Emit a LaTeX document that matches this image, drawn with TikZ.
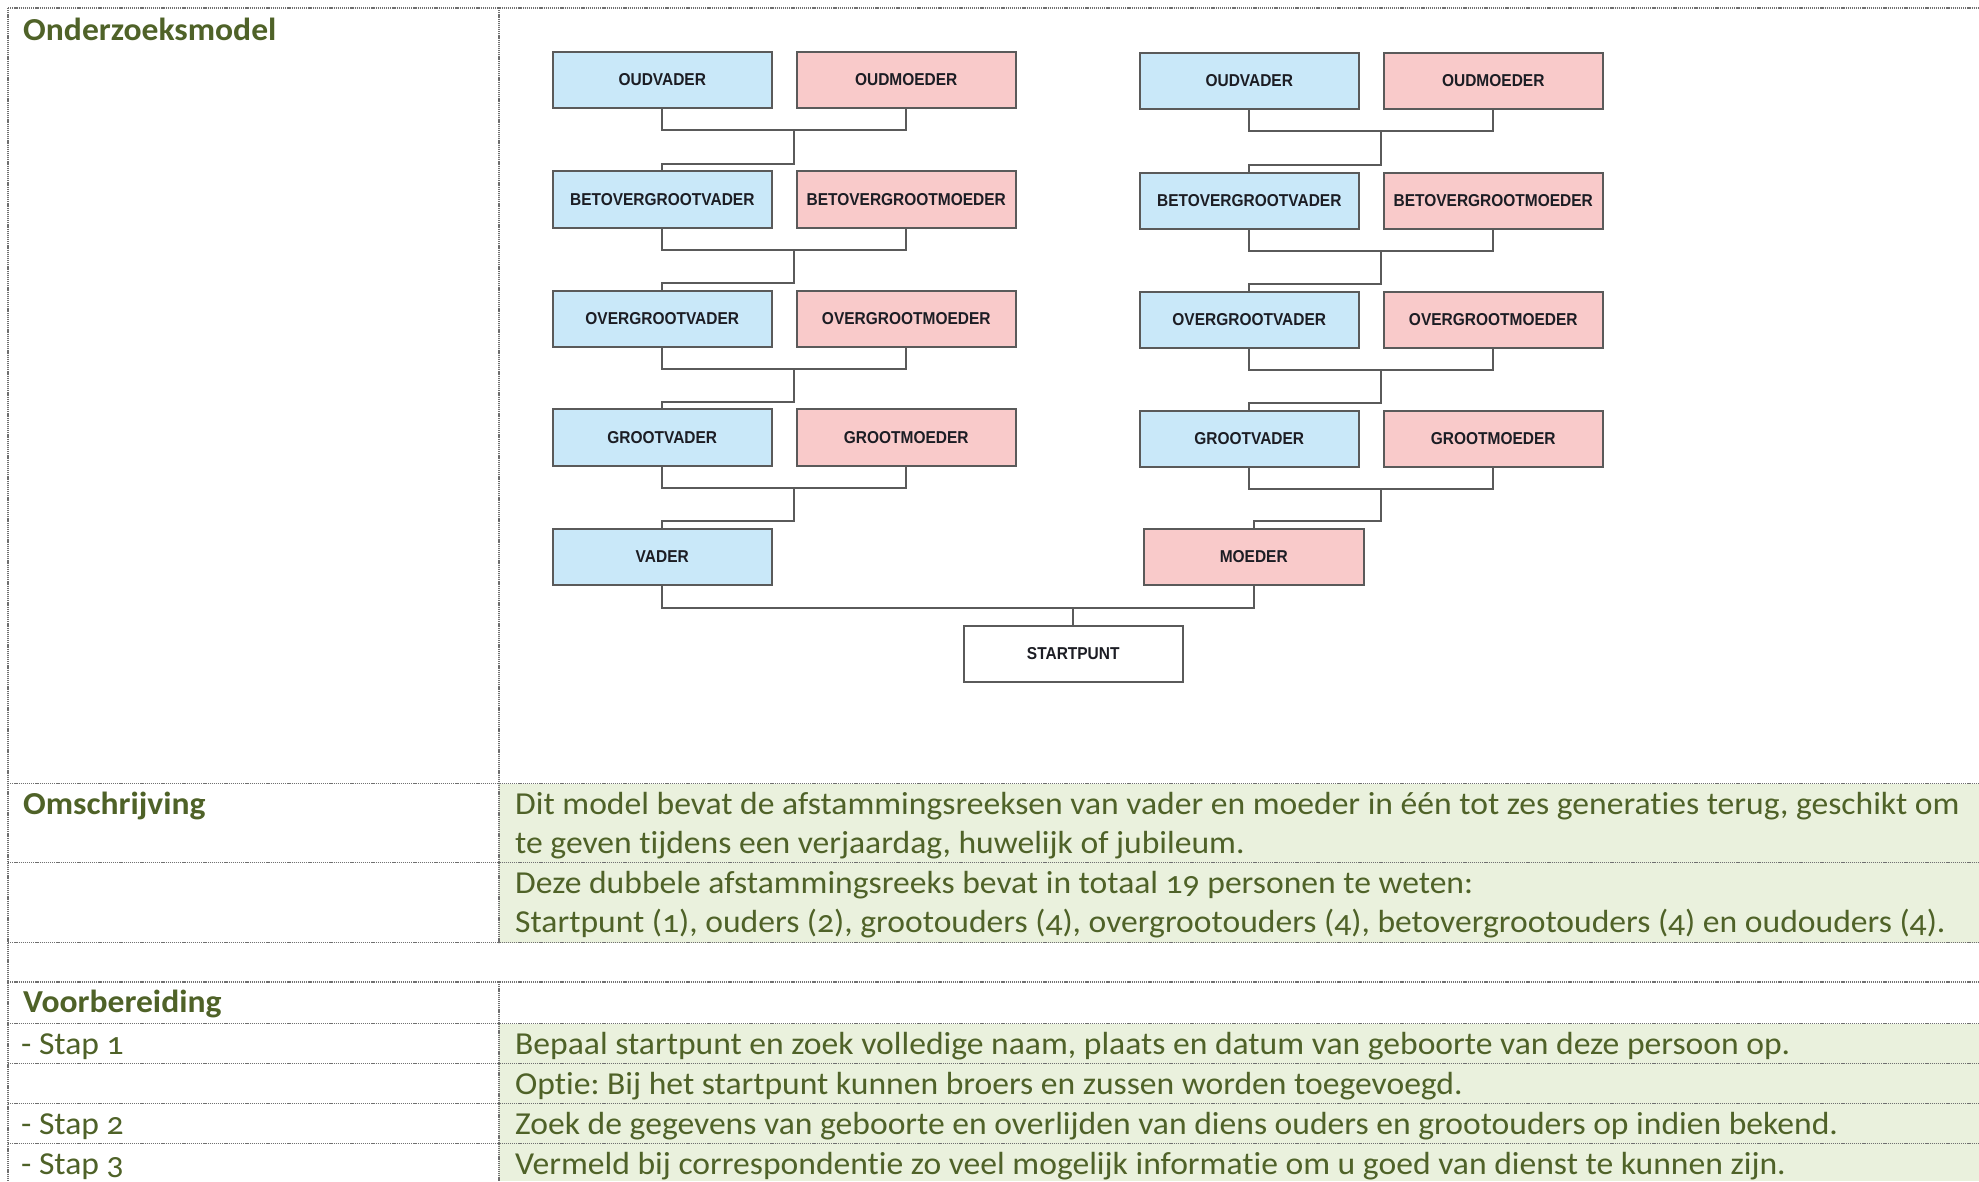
\documentclass[tikz,border=0pt]{standalone}
\usepackage{fontspec}
\setmainfont{Carlito}[Numbers=OldStyle, FakeStretch=1.05, Ligatures=NoCommon]
\newfontfamily\boxfont{Liberation Sans}[FakeStretch=0.9]
\frenchspacing
\usetikzlibrary{calc}
\definecolor{olive}{HTML}{4F6228}
\definecolor{cellgreen}{HTML}{EAF1DD}
\definecolor{vblue}{HTML}{C9E8F9}
\definecolor{mpink}{HTML}{F9CACA}
\definecolor{boxline}{HTML}{5A5A5A}
\definecolor{gridline}{HTML}{707070}
\definecolor{boxtext}{HTML}{1C1D24}
\begin{document}
\begin{tikzpicture}[x=1pt,y=-1pt,
  grid/.style={draw=gridline, line width=1.1pt, dash pattern=on 1.2pt off 0.9pt},
  person/.style={draw=boxline, line width=2pt, minimum width=219.5pt, minimum height=56.5pt,
    inner sep=0pt, anchor=north west, text=boxtext,
    font=\boxfont\bfseries\fontsize{17.2}{18}\selectfont},
  man/.style={person, fill=vblue},
  woman/.style={person, fill=mpink},
  link/.style={draw=boxline, line width=2pt},
  head/.style={anchor=base west, inner sep=0pt, text=olive,
    font=\bfseries\fontsize{32}{39.5}\selectfont},
  body/.style={anchor=base west, inner sep=0pt, text=olive,
    font=\fontsize{32}{39.5}\selectfont},
]
\useasboundingbox (0,0) rectangle (1979,1181);
\fill[white] (0,0) rectangle (1979,1181);

% ---------- table fills ----------
\fill[cellgreen] (499,783.5) rectangle (1979,942.5);
\fill[cellgreen] (499,1023.5) rectangle (1979,1181);

% ---------- table rules ----------
\foreach \yy in {8,783.5,862.5,942.5,982,1023.5,1063.5,1103.5,1143.5}
  \draw[grid] (8,\yy) -- (1979,\yy);
\draw[grid] (8,8) -- (8,1181);
\draw[grid] (499,8) -- (499,942.5);
\draw[grid] (499,982) -- (499,1181);

% ---------- table texts ----------
\node[head] (hOnd) at (23,40) {Onderzoeksmodel};
\node[head] (hOms) at (23,814) {Omschrijving};
\node[body] (d1) at (515,814) {Dit model bevat de afstammingsreeksen van vader en moeder in één tot zes generaties terug, geschikt om};
\node[body] (d2) at (515,853.5) {te geven tijdens een verjaardag, huwelijk of jubileum.};
\node[body] (d3) at (515,893) {Deze dubbele afstammingsreeks bevat in totaal 19 personen te weten:};
\node[body] (d4) at (515,932.5) {Startpunt (1), ouders (2), grootouders (4), overgrootouders (4), betovergrootouders (4) en oudouders (4).};
\node[head] (hVoor) at (23,1012.5) {Voorbereiding};
\node[body] (s1) at (21,1054) {- Stap 1};
\node[body] (s1t) at (515,1054) {Bepaal startpunt en zoek volledige naam, plaats en datum van geboorte van deze persoon op.};
\node[body] (s1o) at (515,1094) {Optie: Bij het startpunt kunnen broers en zussen worden toegevoegd.};
\node[body] (s2) at (21,1134) {- Stap 2};
\node[body] (s2t) at (515,1134) {Zoek de gegevens van geboorte en overlijden van diens ouders en grootouders op indien bekend.};
\node[body] (s3) at (21,1174) {- Stap 3};
\node[body] (s3t) at (515,1174) {Vermeld bij correspondentie zo veel mogelijk informatie om u goed van dienst te kunnen zijn.};

% ---------- left tree (vader) ----------
\node[man]   (lf1) at (551.5,50.5)  {OUDVADER};
\node[woman] (lm1) at (795.5,50.5)  {OUDMOEDER};
\node[man]   (lf2) at (551.5,170.2) {BETOVERGROOTVADER};
\node[woman] (lm2) at (795.5,170.2) {BETOVERGROOTMOEDER};
\node[man]   (lf3) at (551.5,289.5) {OVERGROOTVADER};
\node[woman] (lm3) at (795.5,289.5) {OVERGROOTMOEDER};
\node[man]   (lf4) at (551.5,408.3) {GROOTVADER};
\node[woman] (lm4) at (795.5,408.3) {GROOTMOEDER};
\node[man]   (vader) at (551.5,527.5) {VADER};

% ---------- right tree (moeder) ----------
\node[man]   (rf1) at (1138.5,51.7)  {OUDVADER};
\node[woman] (rm1) at (1382.5,51.7)  {OUDMOEDER};
\node[man]   (rf2) at (1138.5,171.5) {BETOVERGROOTVADER};
\node[woman] (rm2) at (1382.5,171.5) {BETOVERGROOTMOEDER};
\node[man]   (rf3) at (1138.5,290.7) {OVERGROOTVADER};
\node[woman] (rm3) at (1382.5,290.7) {OVERGROOTMOEDER};
\node[man]   (rf4) at (1138.5,409.5) {GROOTVADER};
\node[woman] (rm4) at (1382.5,409.5) {GROOTMOEDER};
\node[woman] (moeder) at (1143,527.8) {MOEDER};

\node[person, fill=white] (start) at (962.5,624.5) {STARTPUNT};

% ---------- connectors ----------
\foreach \t/\a/\b in {l/1/2, l/2/3, l/3/4, r/1/2, r/2/3, r/3/4}{
  \coordinate (j\t\a) at ($(\t m\a.south west)+(-2,21)$);
  \draw[link] (\t f\a.south) |- ($(\t m\a.south)+(0,21)$) -- (\t m\a.south);
  \draw[link] (j\t\a) |- ($(\t f\b.north)+(0,-6.5)$) -- (\t f\b.north);
}
\coordinate (jl4) at ($(lm4.south west)+(-2,21)$);
\draw[link] (lf4.south) |- ($(lm4.south)+(0,21)$) -- (lm4.south);
\draw[link] (jl4) |- ($(vader.north)+(0,-6.5)$) -- (vader.north);
\coordinate (jr4) at ($(rm4.south west)+(-2,21)$);
\draw[link] (rf4.south) |- ($(rm4.south)+(0,21)$) -- (rm4.south);
\draw[link] (jr4) |- ($(moeder.north)+(0,-6.5)$) -- (moeder.north);

\coordinate (jb) at ($(vader.south)+(0,22.4)$);
\draw[link] (vader.south) -- (jb) -| (moeder.south);
\draw[link] (start.north) -- (start.north |- jb);
\end{tikzpicture}
\end{document}
